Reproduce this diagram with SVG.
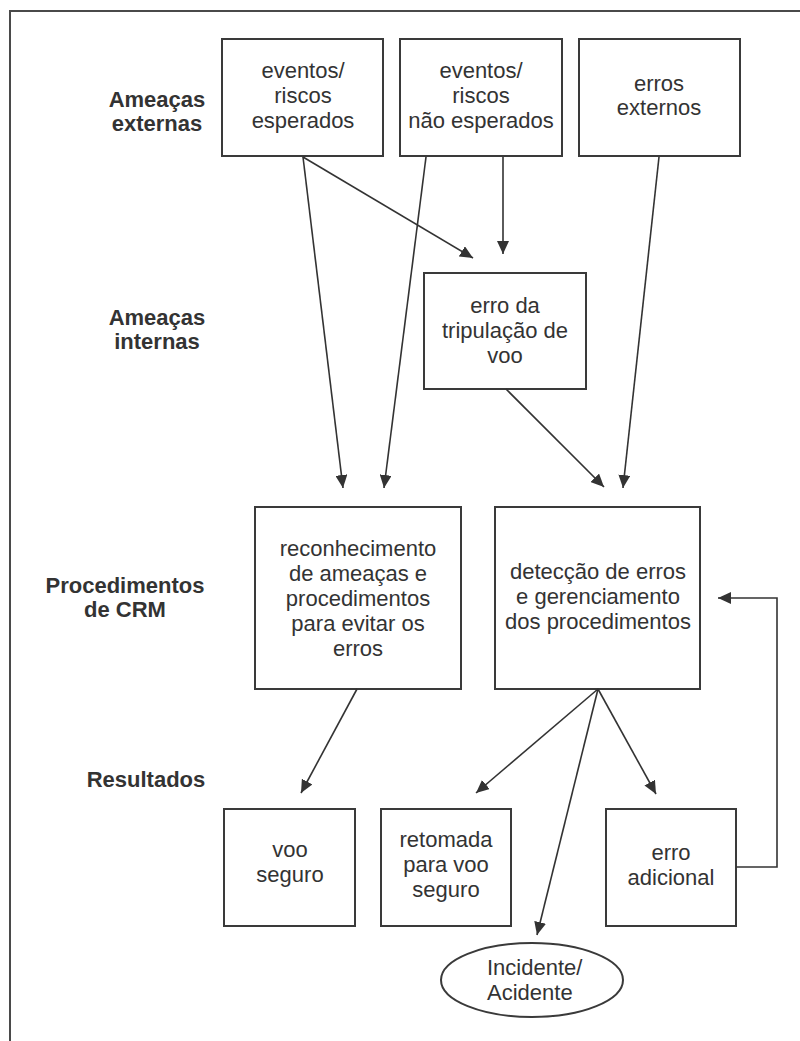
<svg xmlns="http://www.w3.org/2000/svg" width="800" height="1041" viewBox="0 0 800 1041">
  <style>
    .box { fill: #ffffff; stroke: #3a3a3a; stroke-width: 2; }
    .txt { font-family: "Liberation Sans", Arial, sans-serif; font-size: 22px; fill: #333333; text-anchor: middle; }
    .lbl { font-family: "Liberation Sans", Arial, sans-serif; font-size: 22px; font-weight: bold; fill: #333333; text-anchor: middle; }
    .con { fill: none; stroke: #333333; stroke-width: 1.6; marker-end: url(#arrow); }
    .frame { fill: none; stroke: #4a4a4a; stroke-width: 2; }
  </style>
  <defs>
    <marker id="arrow" markerUnits="userSpaceOnUse" markerWidth="14" markerHeight="12" refX="13" refY="6" orient="auto">
      <path d="M0,0 L13,6 L0,12 z" fill="#333333"/>
    </marker>
  </defs>

  <rect width="800" height="1041" fill="#ffffff"/>
  <!-- outer frame: left and top edges -->
  <path class="frame" d="M10,1041 V11 H800"/>

  <!-- row labels -->
  <g id="label-externas">
    <text class="lbl" x="157" y="107">Ameaças</text>
    <text class="lbl" x="157" y="131">externas</text>
  </g>
  <g id="label-internas">
    <text class="lbl" x="157" y="325">Ameaças</text>
    <text class="lbl" x="157" y="349">internas</text>
  </g>
  <g id="label-crm">
    <text class="lbl" x="125" y="593">Procedimentos</text>
    <text class="lbl" x="125" y="617">de CRM</text>
  </g>
  <g id="label-resultados">
    <text class="lbl" x="146" y="787">Resultados</text>
  </g>

  <!-- external threats -->
  <g id="node-esperados">
    <rect class="box" x="222" y="39" width="161" height="117"/>
    <text class="txt" x="303" y="78">eventos/</text>
    <text class="txt" x="303" y="103">riscos</text>
    <text class="txt" x="303" y="128">esperados</text>
  </g>
  <g id="node-nao-esperados">
    <rect class="box" x="400" y="39" width="162" height="117"/>
    <text class="txt" x="481" y="78">eventos/</text>
    <text class="txt" x="481" y="103">riscos</text>
    <text class="txt" x="481" y="128">não esperados</text>
  </g>
  <g id="node-erros-externos">
    <rect class="box" x="579" y="39" width="161" height="117"/>
    <text class="txt" x="659" y="91">erros</text>
    <text class="txt" x="659" y="115">externos</text>
  </g>

  <!-- internal threat -->
  <g id="node-erro-tripulacao">
    <rect class="box" x="424" y="273" width="162" height="116"/>
    <text class="txt" x="505" y="313">erro da</text>
    <text class="txt" x="505" y="338">tripulação de</text>
    <text class="txt" x="505" y="363">voo</text>
  </g>

  <!-- CRM procedures -->
  <g id="node-reconhecimento">
    <rect class="box" x="255" y="507" width="206" height="182"/>
    <text class="txt" x="358" y="556">reconhecimento</text>
    <text class="txt" x="358" y="581">de ameaças e</text>
    <text class="txt" x="358" y="606">procedimentos</text>
    <text class="txt" x="358" y="631">para evitar os</text>
    <text class="txt" x="358" y="656">erros</text>
  </g>
  <g id="node-deteccao">
    <rect class="box" x="495" y="507" width="205" height="182"/>
    <text class="txt" x="598" y="579">detecção de erros</text>
    <text class="txt" x="598" y="604">e gerenciamento</text>
    <text class="txt" x="598" y="629">dos procedimentos</text>
  </g>

  <!-- outcomes -->
  <g id="node-voo-seguro">
    <rect class="box" x="224" y="809" width="131" height="117"/>
    <text class="txt" x="290" y="857">voo</text>
    <text class="txt" x="290" y="882">seguro</text>
  </g>
  <g id="node-retomada">
    <rect class="box" x="381" y="809" width="130" height="117"/>
    <text class="txt" x="446" y="847">retomada</text>
    <text class="txt" x="446" y="872">para voo</text>
    <text class="txt" x="446" y="897">seguro</text>
  </g>
  <g id="node-erro-adicional">
    <rect class="box" x="606" y="809" width="130" height="117"/>
    <text class="txt" x="671" y="860">erro</text>
    <text class="txt" x="671" y="885">adicional</text>
  </g>
  <g id="node-incidente">
    <ellipse class="box" cx="532" cy="980" rx="91" ry="37"/>
    <text class="txt" x="487" y="975" style="text-anchor:start">Incidente/</text>
    <text class="txt" x="487" y="1000" style="text-anchor:start">Acidente</text>
  </g>

  <!-- connectors -->
  <g id="connectors">
    <line class="con" x1="303" y1="157" x2="343" y2="488"/>
    <line class="con" x1="303" y1="157" x2="473" y2="258"/>
    <line class="con" x1="426" y1="157" x2="384" y2="488"/>
    <line class="con" x1="503" y1="157" x2="503" y2="254"/>
    <line class="con" x1="659" y1="157" x2="623" y2="488"/>
    <line class="con" x1="506" y1="389" x2="604" y2="487"/>
    <line class="con" x1="357" y1="689" x2="301" y2="793"/>
    <line class="con" x1="598" y1="689" x2="476" y2="793"/>
    <line class="con" x1="598" y1="689" x2="537" y2="935"/>
    <line class="con" x1="598" y1="689" x2="656" y2="794"/>
    <path class="con" d="M736,867 H777 V598 H718"/>
  </g>
</svg>
